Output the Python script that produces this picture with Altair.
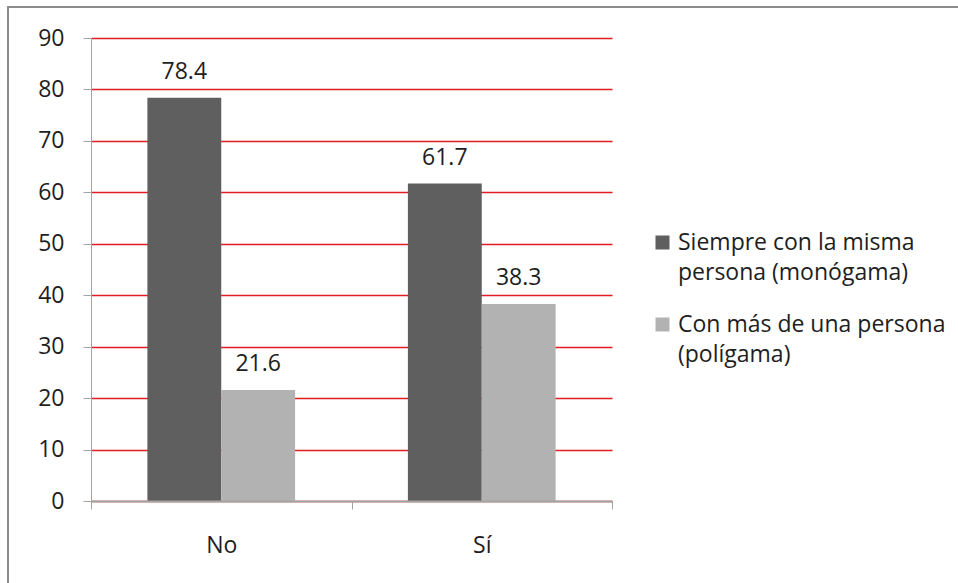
import altair as alt
import pandas as pd

# Data: answer categories, series names and percentages
categories = ["No", "Sí"]
series = [
    "Siempre con la misma\npersona (monógama)",
    "Con más de una persona\n(polígama)",
]
monogamous = [78.4, 61.7]
polygamous = [21.6, 38.3]
series_colors = ["#5F5F5F", "#B2B2B2"]

rows = []
for i, cat in enumerate(categories):
    rows.append({"respuesta": cat, "serie": series[0], "valor": monogamous[i]})
    rows.append({"respuesta": cat, "serie": series[1], "valor": polygamous[i]})
df = pd.DataFrame(rows)

FONT = "Open Sans"
TEXT = "#1e1e1e"
AXIS_GRAY = "#A3A3A3"
GRID_RED = "#E31B23"
FS = 23

# each category band spans the full step so its ticks sit between groups;
# the offset scale leaves the outer padding around each pair of bars
x_enc = alt.X(
    "respuesta:N",
    sort=categories,
    title=None,
    scale=alt.Scale(paddingInner=0, paddingOuter=0),
    axis=alt.Axis(
        labelAngle=0,
        tickBand="extent",
        grid=False,
        labelPadding=25,
        zindex=1,
        domainWidth=2,
    ),
)
xoff = alt.XOffset(
    "serie:N", sort=series, scale=alt.Scale(paddingInner=0, paddingOuter=0.7635)
)
y_enc = alt.Y(
    "valor:Q",
    title=None,
    scale=alt.Scale(domain=[0, 90], nice=False),
    axis=alt.Axis(values=list(range(0, 100, 10)), grid=True, labelPadding=19),
)

base = alt.Chart(df)

bars = base.mark_bar().encode(
    x=x_enc,
    xOffset=xoff,
    y=y_enc,
    color=alt.Color(
        "serie:N",
        sort=series,
        scale=alt.Scale(domain=series, range=series_colors),
        legend=alt.Legend(
            title=None,
            orient="none",
            legendX=560,
            legendY=193,
            padding=0,
            symbolType="square",
            symbolSize=196,
            symbolStrokeWidth=0,
            labelFontSize=FS,
            labelFont=FONT,
            labelColor=TEXT,
            labelLimit=400,
            labelOffset=4,
            labelBaseline="middle",
            labelExpr="split(datum.label, '\\n')",
            rowPadding=28,
        ),
    ),
)

labels = base.mark_text(
    baseline="alphabetic", dy=-19, fontSize=FS, font=FONT, color=TEXT
).encode(
    x=x_enc,
    xOffset=xoff,
    y=y_enc,
    text=alt.Text("valor:Q", format=".1f"),
)

# outer chart frame
frame = alt.Chart(alt.Data(values=[{}])).mark_rect(
    fillOpacity=0, stroke="#8C8C8C", strokeWidth=2
).encode(
    x=alt.value(-83), x2=alt.value(900), y=alt.value(-31), y2=alt.value(600)
)

chart = (
    alt.layer(frame, bars, labels)
    .properties(
        width=521,
        height=463,
        autosize=alt.AutoSizeParams(type="none"),
        padding={"left": 91, "top": 38, "right": 346, "bottom": 82},
        background="white",
    )
    .configure(style={"guide-label": {"lineHeight": 30}})
    .configure_view(stroke=None)
    .configure_axis(
        gridColor=GRID_RED,
        gridWidth=1.5,
        tickSize=8,
        tickColor=AXIS_GRAY,
        domainColor=AXIS_GRAY,
        labelFontSize=FS,
        labelFont=FONT,
        labelColor=TEXT,
    )
)

chart.save("out.html", embed_options={"renderer": "svg", "actions": False})
